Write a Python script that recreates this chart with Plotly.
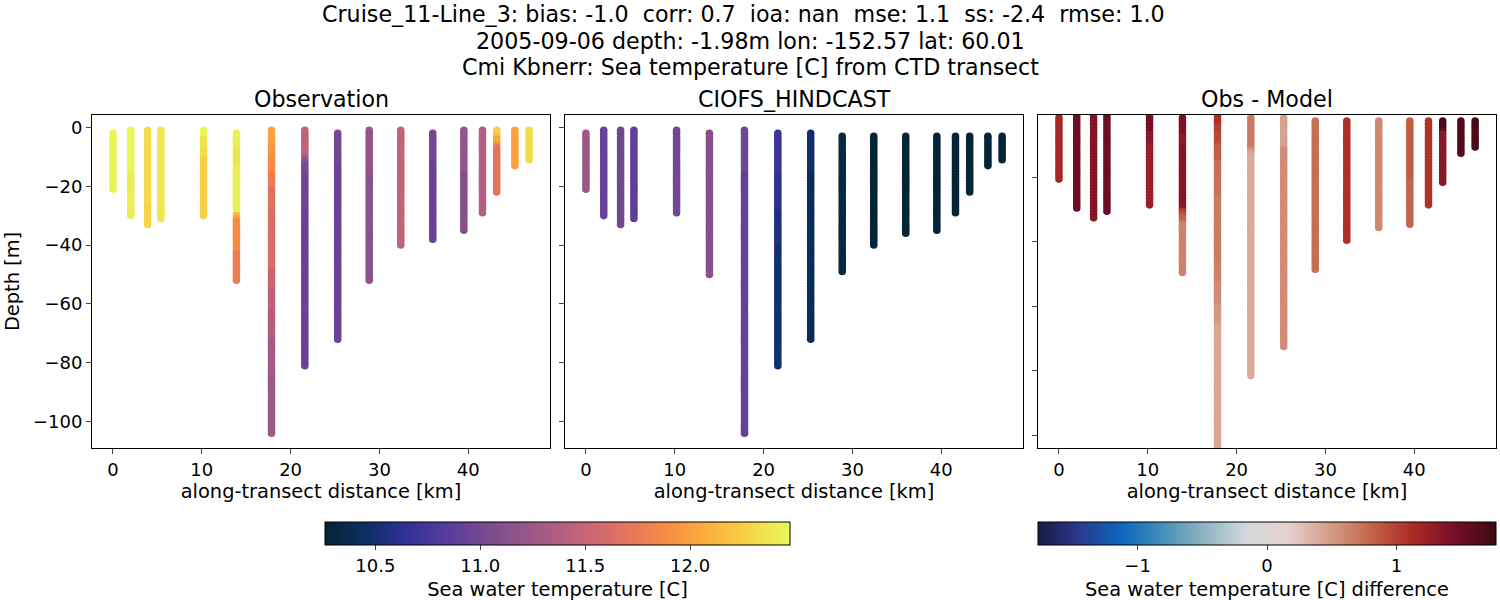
from plotly.subplots import make_subplots
import plotly.graph_objects as go

FONT = "DejaVu Sans"

# along-transect distance of each cast [km]
station_km = [0.0, 2.0, 3.9, 5.4, 10.2, 13.9, 17.85, 21.6, 25.3, 28.85, 32.4, 36.0, 39.5, 41.6, 43.2, 45.25, 46.85]

# first sample depth per cast [m]
obs_top = [-2, -1, -1, -1, -1, -2, -1, -1, -2, -1, -1, -2, -1, -1, -1, -1, -1]
model_top = [-2, -1, -1, -1, -1, -2, -1, -2, -2, -3, -3, -3, -3, -3, -3, -3, -3]
diff_top = [-1.5, -0.5, -0.5, -0.5, -0.5, -1.5, -0.5, -1.5, -1.5, -2.5, -2.5, -2.5, -2.5, -2.5, -2.5, -2.5, -2.5]

obs_temp = [
    [(-21, 12.45)],
    [(-15, 12.47), (-30, 12.42)],
    [(-5, 12.34), (-26, 12.31), (-33, 12.28)],
    [(-31, 12.38)],
    [(-3, 12.46), (-7, 12.36), (-10, 12.33), (-30, 12.26)],
    [(-7, 12.43), (-13, 12.37), (-29, 12.43), (-30, 12.15), (-31, 12.05), (-42, 11.87), (-52, 11.77)],
    [(-5, 12.02), (-9, 11.95), (-15, 11.88), (-20, 11.78), (-28, 11.68), (-48, 11.62), (-55, 11.52), (-62, 11.45),
     (-72, 11.38), (-85, 11.3), (-104, 11.27)],
    [(-9, 11.47), (-10, 11.4), (-11, 11.25), (-12, 11.12), (-16, 11.03), (-28, 10.97), (-81, 10.93)],
    [(-9, 11.0), (-12, 10.98), (-72, 10.93)],
    [(-15, 11.2), (-52, 11.15)],
    [(-40, 11.47)],
    [(-12, 11.0), (-38, 10.93)],
    [(-15, 11.2), (-35, 11.12)],
    [(-29, 11.38)],
    [(-2, 12.25), (-3, 12.18), (-5, 12.05), (-6, 11.9), (-22, 11.7)],
    [(-13, 12.0)],
    [(-11, 12.33)],
]

model_temp = [
    [(-21, 11.25)],
    [(-30, 10.93)],
    [(-33, 11.0)],
    [(-31, 10.88)],
    [(-29, 11.0)],
    [(-50, 11.13)],
    [(-15, 10.98), (-104, 10.9)],
    [(-15, 10.7), (-28, 10.62), (-40, 10.55), (-81, 10.5)],
    [(-15, 10.48), (-72, 10.42)],
    [(-49, 10.33)],
    [(-40, 10.28)],
    [(-36, 10.28)],
    [(-35, 10.28)],
    [(-29, 10.28)],
    [(-22, 10.28)],
    [(-13, 10.28)],
    [(-11, 10.28)],
]

diff_temp = [
    [(-20.5, 1.17)],
    [(-29.5, 1.5)],
    [(-32.5, 1.37)],
    [(-30.5, 1.5)],
    [(-5.5, 1.45), (-9.5, 1.35), (-28.5, 1.25)],
    [(-6.5, 1.42), (-9.5, 1.32), (-14.5, 1.38), (-29.5, 1.37), (-30.5, 1.05), (-31.5, 0.95), (-33.5, 0.82), (-49.5, 0.63)],
    [(-3.5, 1.1), (-5.5, 1.02), (-9.5, 0.95), (-14.5, 0.85), (-25.5, 0.74), (-46.5, 0.68), (-52.5, 0.64), (-59.5, 0.58),
     (-65.5, 0.5), (-110.5, 0.43)],
    [(-10.5, 0.68), (-11.5, 0.55), (-12.5, 0.45), (-81.5, 0.4)],
    [(-10.5, 0.45), (-72.5, 0.58)],
    [(-48.5, 0.75)],
    [(-39.5, 1.1)],
    [(-35.5, 0.6)],
    [(-20.5, 0.85), (-34.5, 0.8)],
    [(-28.5, 1.08)],
    [(-4.5, 1.7), (-5.5, 1.6), (-21.5, 1.35)],
    [(-12.5, 1.65)],
    [(-10.5, 1.7)],
]

temp_range = [10.26, 12.476]
diff_range = [-1.77, 1.77]
temp_ticks = [10.5, 11.0, 11.5, 12.0]
diff_ticks = [-1, 0, 1]
x_ticks = [0, 10, 20, 30, 40]
y_ticks = [0, -20, -40, -60, -80, -100]

title_lines = [
    "Cruise_11-Line_3: bias: -1.0\u00a0\u00a0corr: 0.7\u00a0\u00a0ioa: nan\u00a0\u00a0mse: 1.1\u00a0\u00a0ss: -2.4\u00a0\u00a0rmse: 1.0\u00a0\u00a0",
    "2005-09-06 depth: -1.98m lon: -152.57 lat: 60.01",
    "Cmi Kbnerr: Sea temperature [C] from CTD transect",
]


def expand(tops, runs):
    # one sample per metre down each cast, value taken from its stretch
    xs, ys, vals = [], [], []
    for km, top, cast in zip(station_km, tops, runs):
        d = top
        for bottom, val in cast:
            while d >= bottom:
                xs.append(km)
                ys.append(d)
                vals.append(val)
                d -= 1
    return xs, ys, vals


fig = make_subplots(rows=1, cols=3, horizontal_spacing=15 / 1404,
                    subplot_titles=["Observation", "CIOFS_HINDCAST", "Obs - Model"])

panels = [(obs_top, obs_temp, "coloraxis"), (model_top, model_temp, "coloraxis"), (diff_top, diff_temp, "coloraxis2")]
for i, (tops, runs, cax) in enumerate(panels):
    xs, ys, vals = expand(tops, runs)
    fig.add_trace(go.Scatter(x=xs, y=ys, mode="markers", showlegend=False,
                             marker=dict(size=7.6, color=vals, coloraxis=cax, line_width=0)),
                  row=1, col=i + 1)

fig.update_xaxes(range=[-2.36, 49.2], tickvals=x_ticks, ticks="outside", ticklen=5, tickwidth=1,
                 showline=True, mirror=True, linecolor="black", linewidth=1, showgrid=False, zeroline=False,
                 title_text="along-transect distance [km]", title_font_size=19.4, title_standoff=5,
                 tickfont_size=18, ticklabelstandoff=0)
fig.update_yaxes(range=[-109, 4.2], tickvals=y_ticks, ticks="outside", ticklen=5, tickwidth=1,
                 showline=True, mirror=True, linecolor="black", linewidth=1, showgrid=False, zeroline=False,
                 tickfont_size=18, showticklabels=False)
fig.update_yaxes(showticklabels=True, title_text="Depth [m]", title_font_size=19.4, title_standoff=8, row=1, col=1)
fig.update_yaxes(range=[-104, -0.6], row=1, col=3)

fig.update_annotations(font=dict(size=22.2, family=FONT, color="black"), yshift=1)

# suptitle lines, centred on the figure
for line, y_px in zip(title_lines, [14, 41, 67]):
    fig.add_annotation(text=line, xref="paper", yref="paper", x=(750 - 92) / 1404, y=(448 - y_px) / 333,
                       xanchor="center", yanchor="middle", showarrow=False,
                       font=dict(size=22.2, family=FONT, color="black"))

fig.update_layout(
    width=1500, height=600,
    margin=dict(l=92, r=4, t=115, b=152, autoexpand=False),
    plot_bgcolor="white", paper_bgcolor="white",
    font=dict(family=FONT, color="black", size=18),
    coloraxis=dict(cmin=temp_range[0], cmax=temp_range[1], colorscale="thermal",
                   colorbar=dict(orientation="h",
                                 x=(557.5 - 92) / 1404, xanchor="center", y=(448 - 522) / 333, yanchor="top",
                                 lenmode="pixels", len=465, thickness=23, xpad=0, ypad=0,
                                 outlinecolor="black", outlinewidth=1,
                                 tickvals=temp_ticks, ticktext=[f"{t:.1f}" for t in temp_ticks],
                                 ticks="outside", ticklen=5, tickwidth=1, tickfont_size=18,
                                 title=dict(text="Sea water temperature [C]", side="bottom", font_size=19.4))),
    coloraxis2=dict(cmin=diff_range[0], cmax=diff_range[1], colorscale="balance",
                    colorbar=dict(orientation="h",
                                  x=(1267 - 92) / 1404, xanchor="center", y=(448 - 522) / 333, yanchor="top",
                                  lenmode="pixels", len=458, thickness=23, xpad=0, ypad=0,
                                  outlinecolor="black", outlinewidth=1,
                                  tickvals=diff_ticks, ticktext=["\u22121", "0", "1"],
                                  ticks="outside", ticklen=5, tickwidth=1, tickfont_size=18,
                                  title=dict(text="Sea water temperature [C] difference", side="bottom", font_size=19.4))),
)

fig.write_html("out.html", config={"displayModeBar": False}, post_script="document.body.style.margin='0';")
